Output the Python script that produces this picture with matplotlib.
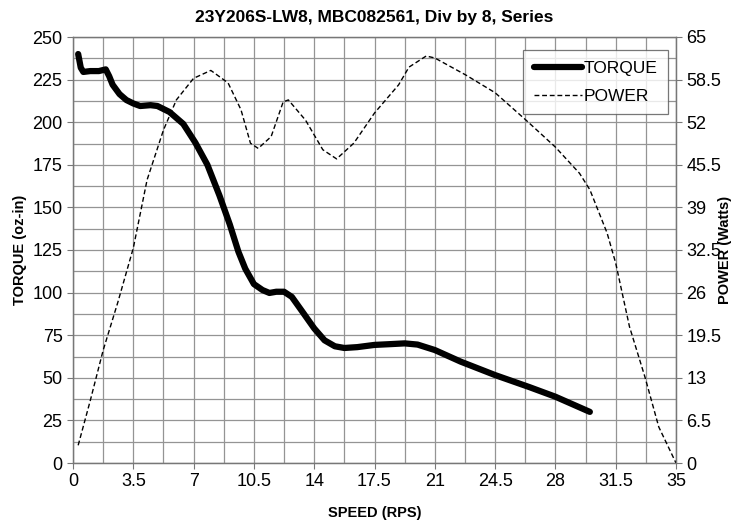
import matplotlib.pyplot as plt
import numpy as np

plt.rcParams['font.family'] = ['Liberation Sans', 'DejaVu Sans']

# torque curve (oz-in) vs speed (RPS)
torque_speed = [0.3, 0.45, 0.6, 1.0, 1.5, 1.9, 2.1, 2.3, 2.7, 3.1, 3.5, 3.9, 4.5, 4.9, 5.6,
                6.4, 7.1, 7.8, 8.5, 9.1, 9.6, 10.0, 10.5, 11.0, 11.4, 11.8, 12.25, 12.7,
                13.3, 14.0, 14.6, 15.2, 15.75, 16.5, 17.5, 18.5, 19.25, 20.0, 21.0, 22.5,
                24.5, 26.5, 28.0, 30.0]
torque = [240, 232, 229.5, 230, 230, 231, 227, 222, 216.5, 213, 211, 209.5, 210, 209.5, 206,
          199, 188, 175, 157, 140, 124, 114, 105, 101.5, 99.8, 100.5, 100.5, 97.5,
          89, 79, 72, 68.5, 67.5, 68, 69.3, 69.8, 70.2, 69.5, 66.3, 59.5,
          51.6, 44.5, 38.9, 30]

# power curve (Watts) vs speed (RPS)
power_speed = [0.3, 1.0, 1.75, 2.6, 3.5, 4.3, 5.25, 6.0, 7.0, 8.0, 9.0, 9.75, 10.3, 10.75,
               11.5, 12.2, 12.5, 13.5, 14.5, 15.3, 16.3, 17.5, 18.9, 19.5, 20.5, 21.0,
               22.8, 24.5, 26.3, 28.0, 29.4, 30.0, 31.0, 31.5, 32.3, 33.2, 34.0, 35.0]
power = [2.7, 9.5, 17.2, 24.5, 32.8, 43.2, 50.8, 55.4, 58.7, 59.9, 58.0, 53.9, 48.8, 48.0,
         49.8, 55.1, 55.4, 52.3, 47.8, 46.4, 48.8, 53.4, 57.7, 60.4, 62.1, 61.8,
         59.2, 56.5, 52.3, 48.2, 44.2, 41.7, 35.1, 30.5, 20.8, 13.1, 5.5, 0.0]

x_ticks = np.arange(0, 35.01, 3.5)
left_ticks = np.arange(0, 250.1, 25)
right_ticks = np.arange(0, 65.1, 6.5)

fig = plt.figure(figsize=(7.42, 5.23), dpi=100)
ax = fig.add_axes([73 / 742, 60 / 523, 603 / 742, 426 / 523])
ax2 = ax.twinx()

ax.set_xlim(0, 35)
ax.set_ylim(0, 250)
ax2.set_ylim(0, 65)

ax.set_xticks(x_ticks)
ax.set_xticks(np.arange(0, 35.01, 1.75), minor=True)
ax.set_yticks(left_ticks)
ax.set_yticks(np.arange(0, 250.1, 12.5), minor=True)
ax2.set_yticks(right_ticks)
ax.set_xticklabels(['%g' % v for v in x_ticks])
ax2.set_yticklabels(['%g' % v for v in right_ticks])

ax.grid(which='both', color='#949494', linewidth=0.9)
ax.set_axisbelow(True)

ax.tick_params(which='major', labelsize=13, length=4, color='#777777', direction='out')
ax.tick_params(which='minor', length=0)
ax2.tick_params(labelsize=13, length=4, color='#777777')
for a in (ax, ax2):
    for s in a.spines.values():
        s.set_color('#777777')
        s.set_linewidth(0.9)

l1, = ax.plot(torque_speed, torque, color='black', linewidth=4.5,
              solid_capstyle='round', solid_joinstyle='round', label='TORQUE')
l2, = ax2.plot(power_speed, power, color='black', linewidth=1.0,
               linestyle=(0, (3.5, 2)), label='POWER')

ax.set_title('23Y206S-LW8, MBC082561, Div by 8, Series', fontsize=12.5,
             fontweight='bold', pad=11)
ax.set_xlabel('SPEED (RPS)', fontsize=10.5, fontweight='bold', labelpad=11)
ax.set_ylabel('TORQUE (oz-in)', fontsize=10.5, fontweight='bold', labelpad=4)
ax2.set_ylabel('POWER (Watts)', fontsize=10.5, fontweight='bold')
ax2.yaxis.set_label_coords(1.07, 0.5)

leg = ax2.legend([l1, l2], ['TORQUE', 'POWER'], loc='upper right',
                 bbox_to_anchor=(0.987, 0.969), borderaxespad=0, fontsize=12.5,
                 frameon=True, fancybox=False, edgecolor='#555555', handlelength=2.8,
                 handletextpad=0.1, borderpad=0.6, labelspacing=0.75)
leg.get_frame().set_linewidth(0.9)

fig.savefig('out.png', dpi=100)
